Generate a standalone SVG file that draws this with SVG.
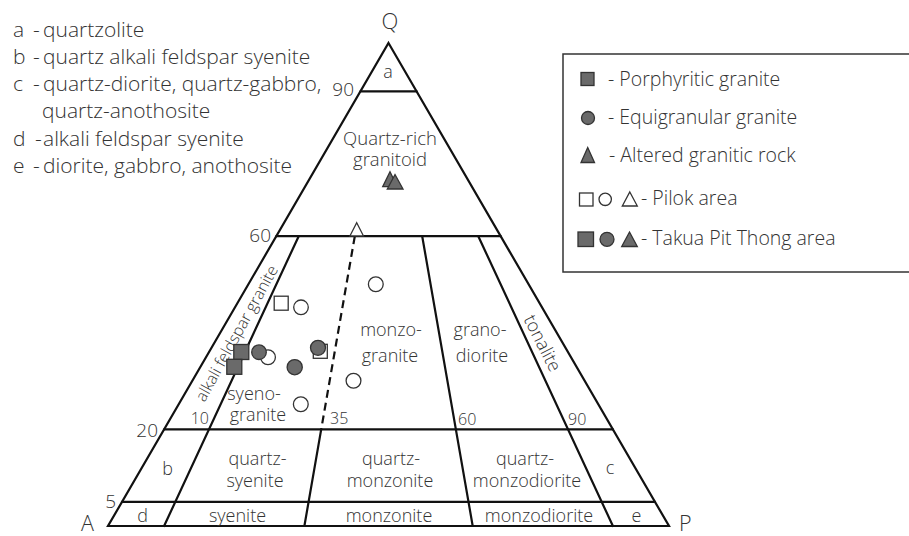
<svg xmlns="http://www.w3.org/2000/svg" width="909" height="536" viewBox="0 0 909 536">
<style>
text{font-family:"Open Sans","Noto Sans","Liberation Sans",sans-serif;fill:#333;font-weight:300}
.ln{stroke:#111;stroke-width:2.2;fill:none;stroke-linecap:round}
.dash{stroke:#111;stroke-width:2.2;fill:none;stroke-dasharray:8 5}
.lab{font-size:18px;text-anchor:middle}
.num{font-size:16px}
.tick{font-size:19px}
.key{font-size:21px}
.leg{font-size:19.5px}
.fill{fill:#6a6a6a;stroke:#333;stroke-width:1.3}
.open{fill:#fff;stroke:#333;stroke-width:1.3}
</style>
<rect width="909" height="536" fill="#fff"/>

<g id="key">
<text class="key" x="13" y="37">a<tspan x="33">-</tspan><tspan x="43">quartzolite</tspan></text>
<text class="key" x="13" y="64">b<tspan x="33">-</tspan><tspan x="43">quartz alkali feldspar syenite</tspan></text>
<text class="key" x="13" y="91">c<tspan x="33">-</tspan><tspan x="43">quartz-diorite, quartz-gabbro,</tspan></text>
<text class="key" x="42" y="118">quartz-anothosite</text>
<text class="key" x="13" y="146">d<tspan x="35">-</tspan><tspan x="43">alkali feldspar syenite</tspan></text>
<text class="key" x="13" y="173">e<tspan x="33">-</tspan><tspan x="43">diorite, gabbro, anothosite</tspan></text>
</g>

<g id="frame">
<polygon class="ln" points="388.5,43 669,526 108,526"/>
</g>

<g id="connectors">
<line class="ln" x1="360.5" y1="91.3" x2="416.6" y2="91.3"/>
<line class="ln" x1="276.3" y1="236.2" x2="500.7" y2="236.2"/>
<line class="ln" x1="164.1" y1="429.4" x2="612.9" y2="429.4"/>
<line class="ln" x1="122" y1="501.9" x2="655" y2="501.9"/>
<line class="ln" x1="298.7" y1="236.2" x2="164.1" y2="526"/>
<line class="dash" x1="354.8" y1="236.2" x2="321.2" y2="429.4"/>
<line class="ln" x1="321.2" y1="429.4" x2="304.4" y2="526"/>
<line class="ln" x1="422.2" y1="236.2" x2="472.7" y2="526"/>
<line class="ln" x1="478.3" y1="236.2" x2="612.9" y2="526"/>
</g>

<g id="field-labels">
<text x="390" y="29" style="font-size:22px;text-anchor:middle">Q</text>
<text x="81" y="531" style="font-size:21.5px">A</text>
<text x="679" y="531" style="font-size:21.5px">P</text>
<text class="lab" x="388" y="78">a</text>
<text class="tick" x="354" y="96" text-anchor="end">90</text>
<text class="lab" x="390" y="145" style="font-size:18.5px">Quartz-rich</text>
<text class="lab" x="390" y="166" style="font-size:18.5px">granitoid</text>
<text class="tick" x="271" y="242" text-anchor="end">60</text>
<text class="tick" x="158" y="437" text-anchor="end">20</text>
<text class="tick" x="116" y="508" text-anchor="end">5</text>
<text class="lab" transform="translate(241.5,336) rotate(-61)" style="font-size:16px">alkali feldspar granite</text>
<text class="lab" x="254" y="399.5">syeno-</text>
<text class="lab" x="258" y="421">granite</text>
<text class="num" x="209" y="423.5" text-anchor="end">10</text>
<text class="num" x="330" y="423.5">35</text>
<text class="lab" x="391" y="336">monzo-</text>
<text class="lab" x="390" y="362">granite</text>
<text class="lab" x="480" y="336">grano-</text>
<text class="lab" x="482" y="362">diorite</text>
<text class="lab" transform="translate(537,346) rotate(63)">tonalite</text>
<text class="num" x="458" y="425">60</text>
<text class="num" x="568" y="425">90</text>
<text class="lab" x="167.5" y="475">b</text>
<text class="lab" x="257.5" y="465">quartz-</text>
<text class="lab" x="255" y="487">syenite</text>
<text class="lab" x="391" y="465">quartz-</text>
<text class="lab" x="390" y="487">monzonite</text>
<text class="lab" x="525" y="465">quartz-</text>
<text class="lab" x="527" y="487">monzodiorite</text>
<text class="lab" x="610" y="474">c</text>
<text class="lab" x="142.5" y="521.5">d</text>
<text class="lab" x="237.5" y="521.5">syenite</text>
<text class="lab" x="389" y="521.5">monzonite</text>
<text class="lab" x="539" y="521.5">monzodiorite</text>
<text class="lab" x="636.5" y="521.5">e</text>
</g>

<g id="data-points">
<polygon class="open" points="356.7,222.7 363.5,236 349.9,236"/>
<polygon class="fill" points="390,171.7 397.3,186.7 382.7,186.7"/>
<polygon class="fill" points="395,174.5 403,189 387.3,189"/>
<rect class="open" x="274.2" y="296.2" width="14" height="14"/>
<circle class="open" cx="301" cy="307.3" r="7.3"/>
<circle class="open" cx="375.8" cy="284.2" r="7.4"/>
<circle class="open" cx="353.5" cy="380.8" r="7.4"/>
<circle class="open" cx="300.8" cy="404.2" r="7.4"/>
<rect class="fill" x="233.8" y="344.5" width="15" height="15"/>
<rect class="fill" x="226.8" y="359.3" width="15" height="15"/>
<circle class="open" cx="268" cy="357.2" r="7.4"/>
<circle class="fill" cx="259" cy="352.2" r="7.3"/>
<circle class="fill" cx="294.7" cy="367.2" r="7.6"/>
<rect class="open" x="313.3" y="344.3" width="14" height="14"/>
<circle class="fill" cx="318" cy="347.8" r="7.5"/>
</g>

<g id="legend">
<rect x="563" y="54" width="360" height="218" fill="#fff" stroke="#333" stroke-width="1.5"/>
<rect class="fill" x="581" y="72.5" width="13" height="13"/>
<text class="leg" x="608" y="86">- Porphyritic granite</text>
<circle class="fill" cx="588" cy="118" r="6.5"/>
<text class="leg" x="608" y="124">- Equigranular granite</text>
<polygon class="fill" points="587.7,147.5 594.5,162.5 581,162.5"/>
<text class="leg" x="609" y="162">- Altered granitic rock</text>
<rect class="open" x="579.5" y="193" width="13.5" height="13"/>
<circle class="open" cx="605.2" cy="199.3" r="6.2"/>
<polygon class="open" points="629.8,192 637.3,206 622.3,206"/>
<text class="leg" x="641" y="205">- Pilok area</text>
<rect class="fill" x="578" y="232" width="15.5" height="14.5"/>
<circle class="fill" cx="607" cy="239.3" r="7"/>
<polygon class="fill" points="629.5,232 637.3,246.5 621.7,246.5"/>
<text class="leg" x="641" y="245">- Takua Pit Thong area</text>
</g>
</svg>
